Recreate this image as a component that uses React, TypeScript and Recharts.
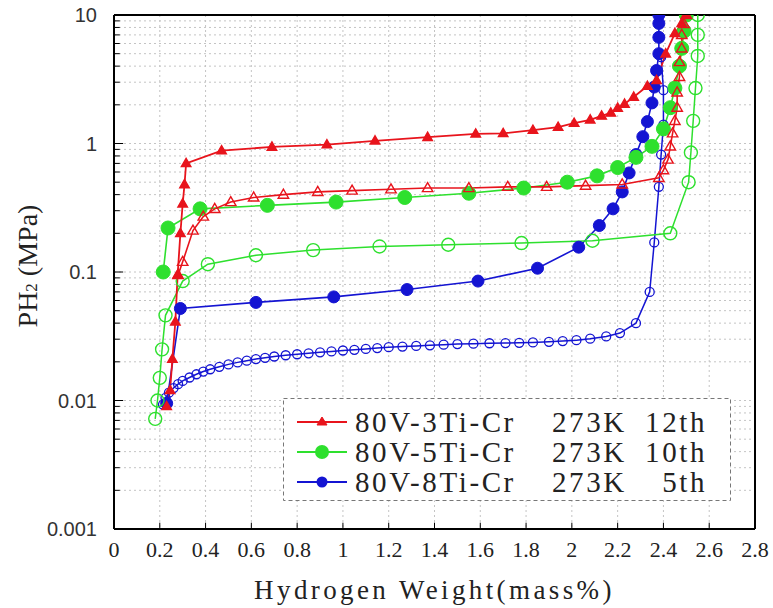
import { LineChart, Line, XAxis, YAxis, CartesianGrid, ReferenceLine, Legend } from 'recharts';

// axis ticks
const xTicks = [0, 0.2, 0.4, 0.6, 0.8, 1, 1.2, 1.4, 1.6, 1.8, 2, 2.2, 2.4, 2.6, 2.8];
const yTicks = [0.001, 0.01, 0.1, 1, 10];
const yMinor = [
  0.002, 0.003, 0.004, 0.005, 0.006, 0.007, 0.008, 0.009,
  0.02, 0.03, 0.04, 0.05, 0.06, 0.07, 0.08, 0.09,
  0.2, 0.3, 0.4, 0.5, 0.6, 0.7, 0.8, 0.9,
  2, 3, 4, 5, 6, 7, 8, 9,
];

const alloyNames = ['80V-3Ti-Cr', '80V-5Ti-Cr', '80V-8Ti-Cr'];
const alloyTemps = ['273K', '273K', '273K'];
const alloyCycles = ['12th', '10th', '5th'];

// 80V-3Ti-Cr, absorption (filled) / desorption (open)
const ti3AbsWt = [0.23, 0.245, 0.255, 0.268, 0.278, 0.29, 0.3, 0.308, 0.315, 0.47, 0.69, 0.93, 1.14, 1.37, 1.58, 1.7, 1.83, 1.94, 2.01, 2.08, 2.13, 2.17, 2.2, 2.23, 2.27, 2.33, 2.37, 2.41, 2.45, 2.48, 2.5];
const ti3AbsP = [0.009, 0.012, 0.021, 0.041, 0.095, 0.2, 0.34, 0.48, 0.7, 0.88, 0.94, 0.98, 1.05, 1.12, 1.19, 1.2, 1.27, 1.34, 1.44, 1.53, 1.64, 1.73, 1.89, 2.03, 2.3, 2.8, 3.1, 5.0, 7.2, 8.6, 10];
const ti3DesWt = [2.5, 2.49, 2.48, 2.48, 2.47, 2.47, 2.46, 2.46, 2.45, 2.44, 2.43, 2.42, 2.4, 2.38, 2.22, 2.06, 1.89, 1.72, 1.55, 1.37, 1.21, 1.04, 0.89, 0.74, 0.61, 0.51, 0.44, 0.39, 0.345, 0.3, 0.28];
const ti3DesP = [10, 8.5, 7, 5.5, 4.3, 3.3, 2.5, 1.9, 1.5, 1.2, 0.95, 0.75, 0.62, 0.54, 0.48, 0.47, 0.46, 0.46, 0.45, 0.45, 0.44, 0.43, 0.42, 0.4, 0.38, 0.35, 0.31, 0.27, 0.21, 0.12, 0.095];

// 80V-5Ti-Cr
const ti5AbsWt = [0.215, 0.236, 0.376, 0.67, 0.97, 1.27, 1.55, 1.79, 1.98, 2.11, 2.2, 2.28, 2.35, 2.4, 2.43, 2.45, 2.47, 2.48, 2.49, 2.5];
const ti5AbsP = [0.1, 0.22, 0.31, 0.33, 0.35, 0.38, 0.41, 0.45, 0.5, 0.56, 0.65, 0.78, 0.95, 1.3, 1.9, 2.7, 4.0, 5.5, 7.5, 10];
const ti5DesWt = [2.55, 2.55, 2.55, 2.54, 2.53, 2.52, 2.51, 2.43, 2.09, 1.78, 1.46, 1.16, 0.87, 0.62, 0.41, 0.3, 0.225, 0.21, 0.2, 0.19, 0.18];
const ti5DesP = [10, 7, 4.8, 2.7, 1.5, 0.85, 0.5, 0.2, 0.175, 0.168, 0.163, 0.158, 0.148, 0.135, 0.115, 0.085, 0.046, 0.025, 0.015, 0.01, 0.0072];

// 80V-8Ti-Cr
const ti8AbsWt = [0.23, 0.29, 0.62, 0.96, 1.28, 1.59, 1.85, 2.03, 2.12, 2.18, 2.22, 2.25, 2.28, 2.31, 2.33, 2.35, 2.36, 2.37, 2.38, 2.38, 2.38, 2.38];
const ti8AbsP = [0.0095, 0.052, 0.058, 0.064, 0.073, 0.085, 0.107, 0.156, 0.23, 0.31, 0.42, 0.59, 0.82, 1.13, 1.48, 2.07, 2.75, 3.7, 5.0, 6.7, 8.6, 10];
const ti8DesWt = [2.39, 2.4, 2.4, 2.39, 2.38, 2.36, 2.34, 2.28, 2.21, 2.15, 2.08, 2.02, 1.96, 1.9, 1.83, 1.77, 1.71, 1.64, 1.57, 1.5, 1.44, 1.38, 1.32, 1.26, 1.2, 1.15, 1.1, 1.05, 1.0, 0.95, 0.9, 0.85, 0.8, 0.75, 0.7, 0.66, 0.62, 0.58, 0.54, 0.5, 0.46, 0.42, 0.39, 0.36, 0.33, 0.3, 0.28, 0.26, 0.24, 0.225, 0.214];
const ti8DesP = [4.7, 2.6, 1.4, 0.82, 0.46, 0.17, 0.07, 0.04, 0.0335, 0.0315, 0.0303, 0.0295, 0.029, 0.0286, 0.0283, 0.0281, 0.028, 0.0279, 0.0277, 0.0275, 0.0272, 0.0269, 0.0266, 0.0263, 0.026, 0.0256, 0.0252, 0.0248, 0.0245, 0.0241, 0.0237, 0.0233, 0.0229, 0.0225, 0.022, 0.0215, 0.021, 0.0204, 0.0198, 0.0191, 0.0183, 0.0175, 0.0168, 0.016, 0.0151, 0.0142, 0.0134, 0.0125, 0.0115, 0.0105, 0.0093];

const RED = '#e8141c';
const GREEN = '#2ee02e';
const BLUE = '#1414d2';
const alloyColors = [RED, GREEN, BLUE];

const toPoints = (xs: number[], ps: number[]) => xs.map((x, i) => ({ x, p: ps[i] }));

const triangleDot = (color: string, filled: boolean, h: number) => (props: any) => {
  const { cx, cy, index } = props;
  const key = `tri-${color}-${filled ? 'f' : 'o'}-${index}`;
  if (cx == null || cy == null) return <g key={key} />;
  const pts = `${cx},${cy - h} ${cx - h * 0.95},${cy + h * 0.65} ${cx + h * 0.95},${cy + h * 0.65}`;
  return <polygon key={key} points={pts} fill={filled ? color : 'none'} stroke={color} strokeWidth={1.4} />;
};

const PressureLabel = ({ viewBox }: any) => {
  const cx = viewBox.x + 27;
  const cy = viewBox.y + viewBox.height / 2 - 6;
  return (
    <text
      x={cx}
      y={cy}
      transform={`rotate(-90 ${cx} ${cy})`}
      textAnchor="middle"
      dominantBaseline="central"
      fontFamily="Liberation Serif"
      fontSize={28}
      fill="#222"
    >
      PH<tspan fontSize={17} dy={4}>2</tspan>
      <tspan dy={-4}> (MPa)</tspan>
    </text>
  );
};

const renderLegend = (props: any) => {
  const entries = (props.payload || [])
    .filter((e: any) => alloyNames.includes(e.value))
    .sort((a: any, b: any) => alloyNames.indexOf(a.value) - alloyNames.indexOf(b.value));
  return (
    <svg width={449} height={104} style={{ display: 'block' }}>
      <rect x={0.5} y={0.5} width={447} height={102} fill="#fff" stroke="#777" strokeDasharray="4 3" />
      {entries.map((e: any, i: number) => {
        const idx = alloyNames.indexOf(e.value);
        const color = alloyColors[idx];
        const cy = 24 + i * 30;
        return (
          <g key={e.value}>
            <line x1={14} x2={64} y1={cy} y2={cy} stroke={color} strokeWidth={2} />
            {idx === 0 && (
              <polygon points={`39,${cy - 5} 34,${cy + 3} 44,${cy + 3}`} fill={color} stroke={color} />
            )}
            {idx === 1 && <circle cx={39} cy={cy} r={7} fill={color} />}
            {idx === 2 && <circle cx={39} cy={cy} r={5.5} fill={color} />}
            <g fontFamily="Liberation Serif" fontSize={29} fill="#222" letterSpacing={2.6}>
              <text x={72} y={cy + 10}>{e.value}</text>
              <text x={269} y={cy + 10}>{alloyTemps[idx]}</text>
              <text x={424} y={cy + 10} textAnchor="end">{alloyCycles[idx]}</text>
            </g>
          </g>
        );
      })}
    </svg>
  );
};

export default function App() {
  return (
    <div style={{ position: 'absolute', left: 0, top: 0, background: '#fff' }}>
      <LineChart width={773} height={608} margin={{ top: 15, right: 18, bottom: 0, left: 0 }}>
        <CartesianGrid
          stroke="#c4c4c4"
          strokeDasharray="2 3"
          horizontalValues={[...yTicks, ...yMinor]}
          verticalValues={xTicks}
        />
        <XAxis
          type="number"
          dataKey="x"
          domain={[0, 2.8]}
          ticks={xTicks}
          interval={0}
          tickLine={false}
          tickSize={6}
          tickMargin={6}
          height={79}
          axisLine={{ stroke: '#000', strokeWidth: 2 }}
          tick={{ fontFamily: 'Liberation Serif', fontSize: 22, fill: '#222' }}
          label={{
            value: 'Hydrogen Weight(mass%)',
            position: 'insideBottom',
            offset: 9,
            style: { fontFamily: 'Liberation Serif', fontSize: 27, fill: '#222', letterSpacing: 3.4 },
          }}
        />
        <YAxis
          type="number"
          scale="log"
          domain={[0.001, 10]}
          allowDataOverflow
          ticks={yTicks}
          interval={0}
          tickFormatter={(v: number) => String(v)}
          tickLine={false}
          tickSize={6}
          tickMargin={11}
          width={114}
          axisLine={{ stroke: '#000', strokeWidth: 2 }}
          tick={{ fontFamily: 'Liberation Sans', fontSize: 20, fill: '#333' }}
          label={<PressureLabel />}
        />

        {/* inward ticks and the top/right frame */}
        {yMinor.map((v) => (
          <ReferenceLine key={`ym-${v}`} segment={[{ x: 0, y: v }, { x: 0.025, y: v }]} stroke="#000" strokeWidth={1} ifOverflow="visible" />
        ))}
        {yTicks.map((v) => (
          <ReferenceLine key={`yM-${v}`} segment={[{ x: 0, y: v }, { x: 0.04, y: v }]} stroke="#000" strokeWidth={1} ifOverflow="visible" />
        ))}
        {xTicks.map((v) => (
          <ReferenceLine key={`xM-${v}`} segment={[{ x: v, y: 0.001 }, { x: v, y: 0.00112 }]} stroke="#000" strokeWidth={1} ifOverflow="visible" />
        ))}
        <ReferenceLine y={10} stroke="#000" strokeWidth={2} ifOverflow="visible" />
        <ReferenceLine x={2.8} stroke="#000" strokeWidth={2} ifOverflow="visible" />

        <Line data={toPoints(ti8DesWt, ti8DesP)} dataKey="p" name="80V-8Ti-Cr des" legendType="none" stroke={BLUE} strokeWidth={1.5}
          dot={{ r: 4.5, fill: 'none', stroke: BLUE, strokeWidth: 1.3 }} isAnimationActive={false} />
        <Line data={toPoints(ti8AbsWt, ti8AbsP)} dataKey="p" name="80V-8Ti-Cr" stroke={BLUE} strokeWidth={1.6}
          dot={{ r: 6, fill: BLUE, stroke: BLUE, strokeWidth: 1 }} isAnimationActive={false} />
        <Line data={toPoints(ti5DesWt, ti5DesP)} dataKey="p" name="80V-5Ti-Cr des" legendType="none" stroke={GREEN} strokeWidth={1.5}
          dot={{ r: 6.5, fill: 'none', stroke: GREEN, strokeWidth: 1.4 }} isAnimationActive={false} />
        <Line data={toPoints(ti5AbsWt, ti5AbsP)} dataKey="p" name="80V-5Ti-Cr" stroke={GREEN} strokeWidth={1.6}
          dot={{ r: 7, fill: GREEN, stroke: GREEN, strokeWidth: 1 }} isAnimationActive={false} />
        <Line data={toPoints(ti3DesWt, ti3DesP)} dataKey="p" name="80V-3Ti-Cr des" legendType="none" stroke={RED} strokeWidth={1.6}
          dot={triangleDot(RED, false, 5.5)} isAnimationActive={false} />
        <Line data={toPoints(ti3AbsWt, ti3AbsP)} dataKey="p" name="80V-3Ti-Cr" stroke={RED} strokeWidth={1.8}
          dot={triangleDot(RED, true, 5)} isAnimationActive={false} />

        <Legend
          layout="horizontal"
          verticalAlign="middle"
          align="center"
          content={renderLegend}
          wrapperStyle={{ position: 'absolute', left: 283, top: 398, width: 449, height: 104 }}
        />
      </LineChart>
    </div>
  );
}
